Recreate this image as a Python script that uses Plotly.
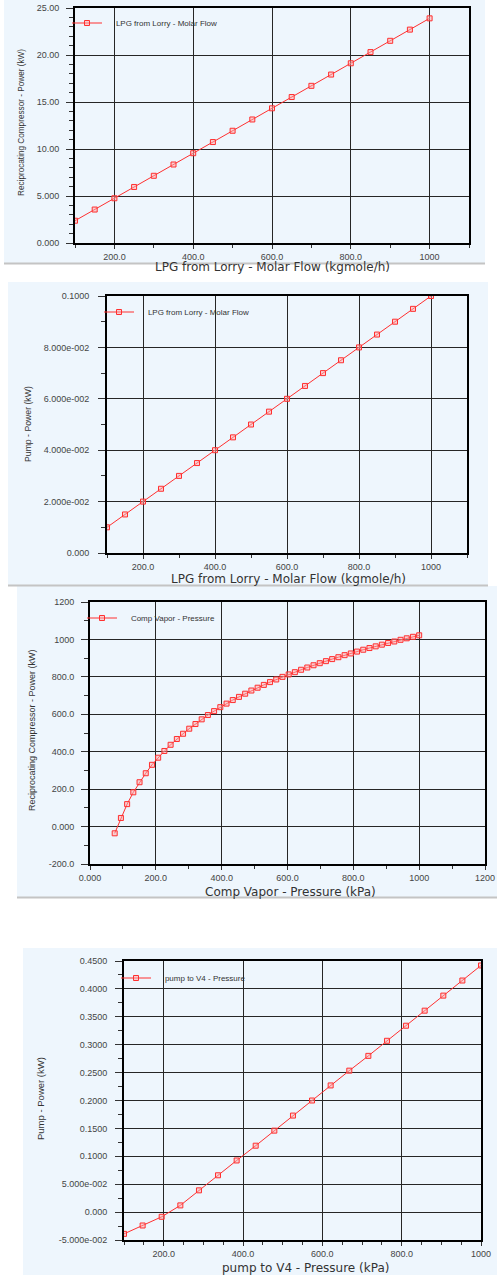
import plotly.graph_objects as go

W, H = 497, 1275

# ---------------- data ----------------
p1_x = [100, 150, 200, 250, 300, 350, 400, 450, 500, 550, 600, 650, 700, 750, 800, 850, 900, 950, 1000]
p1_y = [2.37, 3.56, 4.76, 5.96, 7.15, 8.35, 9.55, 10.74, 11.94, 13.14, 14.33, 15.53, 16.72, 17.92,
        19.12, 20.31, 21.51, 22.70, 23.90]

p2_x = [100, 150, 200, 250, 300, 350, 400, 450, 500, 550, 600, 650, 700, 750, 800, 850, 900, 950, 1000]
p2_y = [0.0100, 0.0150, 0.0200, 0.0250, 0.0300, 0.0350, 0.0400, 0.0450, 0.0500, 0.0550, 0.0600,
        0.0650, 0.0700, 0.0750, 0.0800, 0.0850, 0.0900, 0.0950, 0.1000]

p3_x = [75.0, 93.9, 112.8, 131.6, 150.5, 169.4, 188.3, 207.1, 226.0, 244.9, 263.8, 282.7, 301.5,
        320.4, 339.3, 358.2, 377.0, 395.9, 414.8, 433.7, 452.6, 471.4, 490.3, 509.2, 528.1, 546.9,
        565.8, 584.7, 603.6, 622.4, 641.3, 660.2, 679.1, 698.0, 716.8, 735.7, 754.6, 773.5, 792.3,
        811.2, 830.1, 849.0, 867.9, 886.7, 905.6, 924.5, 943.4, 962.2, 981.1, 1000.0]
p3_y = [-36, 46, 120, 183, 237, 285, 330, 368, 404, 437, 468, 496, 523, 548, 573, 596, 617, 638,
        657, 676, 693, 710, 727, 742, 757, 772, 786, 800, 813, 825, 838, 850, 862, 873, 884, 895,
        905, 916, 925, 935, 945, 954, 963, 972, 981, 989, 998, 1006, 1014, 1022]

p4_x = [100, 147, 195, 242, 289, 337, 384, 432, 479, 526, 574, 621, 668, 716, 763, 811, 858, 905, 953, 1000]
p4_y = [-0.039, -0.024, -0.0084, 0.012, 0.039, 0.066, 0.0925, 0.119, 0.146, 0.173, 0.200, 0.227,
        0.2535, 0.280, 0.307, 0.334, 0.361, 0.388, 0.415, 0.442]

names = ["LPG from Lorry - Molar Flow", "LPG from Lorry - Molar Flow",
         "Comp Vapor - Pressure", "pump to V4 - Pressure"]

x_titles = ["LPG from Lorry - Molar Flow (kgmole/h)", "LPG from Lorry - Molar Flow (kgmole/h)",
            "Comp Vapor - Pressure (kPa)", "pump to V4 - Pressure (kPa)"]
y_titles = ["Reciprocating Compressor - Power (kW)", "Pump - Power (kW)",
            "Reciprocating Compressor - Power (kW)", "Pump - Power (kW)"]

x1_ticks = [200, 400, 600, 800, 1000]
x1_text = ["200.0", "400.0", "600.0", "800.0", "1000"]
y1_ticks = [0, 5, 10, 15, 20, 25]
y1_text = ["0.000", "5.000", "10.00", "15.00", "20.00", "25.00"]

y2_ticks = [0, 0.02, 0.04, 0.06, 0.08, 0.1]
y2_text = ["0.000", "2.000e-002", "4.000e-002", "6.000e-002", "8.000e-002", "0.1000"]

x3_ticks = [0, 200, 400, 600, 800, 1000, 1200]
x3_text = ["0.000", "200.0", "400.0", "600.0", "800.0", "1000", "1200"]
y3_ticks = [-200, 0, 200, 400, 600, 800, 1000, 1200]
y3_text = ["-200.0", "0.000", "200.0", "400.0", "600.0", "800.0", "1000", "1200"]

y4_ticks = [-0.05, 0, 0.05, 0.1, 0.15, 0.2, 0.25, 0.3, 0.35, 0.4, 0.45]
y4_text = ["-5.000e-002", "0.000", "5.000e-002", "0.1000", "0.1500", "0.2000", "0.2500",
           "0.3000", "0.3500", "0.4000", "0.4500"]

# ---------------- layout helpers ----------------
def px(x):
    return x / W

def py(y):
    return 1 - y / H

BG = "#EEF6FD"
RED = "#FF3030"
GRID = "#262626"
TICKC = "#333333"
TFONT = dict(family="Liberation Sans, Arial, sans-serif", size=9, color="#444444")

# plot-area pixel boxes: left, right, top, bottom
boxes = [(75, 469, 8, 243), (107, 467, 296, 553), (90, 485, 602, 864), (124, 481, 961, 1240)]
# panel background boxes
panels = [(4, 485, 0, 263), (8, 488, 282, 585), (17, 497, 586, 897), (23, 497, 948, 1275)]

fig = go.Figure()

PAD = "\u00a0\u00a0\u00a0\u00a0"
series = [(p1_x, p1_y), (p2_x, p2_y), (p3_x, p3_y), (p4_x, p4_y)]
for i, (xs, ys) in enumerate(series):
    sfx = "" if i == 0 else str(i + 1)
    fig.add_trace(go.Scatter(
        x=xs, y=ys, mode="lines+markers", name=PAD + names[i],
        xaxis="x" + sfx, yaxis="y" + sfx,
        legend="legend" + sfx,
        line=dict(color=RED, width=1),
        marker=dict(symbol="square", size=5, color="rgba(255,170,170,0.5)",
                    line=dict(color=RED, width=1)),
    ))

def xaxis(box, rng, tv, tt, minor_dtick, minor_tick0, anchor):
    l, r, t, b = box
    return dict(domain=[px(l), px(r)], range=rng, anchor=anchor,
                tickmode="array", tickvals=tv, ticktext=tt,
                ticks="outside", ticklen=4, tickwidth=1, tickcolor=TICKC,
                tickfont=TFONT, showline=True, linewidth=2, linecolor="black", mirror=True,
                showgrid=True, gridcolor=GRID, gridwidth=1.2, zeroline=False,
                minor=dict(dtick=minor_dtick, tick0=minor_tick0, ticks="outside", ticklen=3,
                           tickcolor=TICKC, showgrid=False))

def yaxis(box, rng, tv, tt, minor_dtick, minor_tick0, anchor, standoff):
    l, r, t, b = box
    return dict(domain=[py(b), py(t)], range=rng, anchor=anchor,
                tickmode="array", tickvals=tv, ticktext=tt,
                ticks="outside", ticklen=7, tickwidth=1, tickcolor=TICKC,
                tickfont=TFONT, ticklabelstandoff=standoff,
                showline=True, linewidth=2, linecolor="black", mirror=True,
                showgrid=True, gridcolor=GRID, gridwidth=1.2, zeroline=False,
                minor=dict(dtick=minor_dtick, tick0=minor_tick0, ticks="outside", ticklen=4,
                           tickcolor=TICKC, showgrid=False))

layout = dict(
    width=W, height=H, margin=dict(l=0, r=0, t=0, b=0, autoexpand=False),
    paper_bgcolor="white", plot_bgcolor=BG, showlegend=True,
    xaxis=xaxis(boxes[0], [100, 1100], x1_ticks, x1_text, 100, 100, "y"),
    yaxis=yaxis(boxes[0], [0, 25], y1_ticks, y1_text, 1, 0, "x", 5),
    xaxis2=xaxis(boxes[1], [100, 1100], x1_ticks, x1_text, 100, 100, "y2"),
    yaxis2=yaxis(boxes[1], [0, 0.1], y2_ticks, y2_text, 0.01, 0, "x2", 7),
    xaxis3=xaxis(boxes[2], [0, 1200], x3_ticks, x3_text, 100, 0, "y3"),
    yaxis3=yaxis(boxes[2], [-200, 1200], y3_ticks, y3_text, 100, 0, "x3", 5),
    xaxis4=xaxis(boxes[3], [100, 1000], x1_ticks, x1_text, 50, 100, "y4"),
    yaxis4=yaxis(boxes[3], [-0.05, 0.45], y4_ticks, y4_text, 0.025, 0, "x4", 6),
)

# legend line start pixel, legend y pixel
legend_pos = [(75, 23), (107, 312), (90, 618), (124, 978)]
for i, (lx, ly) in enumerate(legend_pos):
    key = "legend" if i == 0 else "legend" + str(i + 1)
    layout[key] = dict(x=px(lx - 8), y=py(ly), xanchor="left", yanchor="middle",
                       bgcolor="rgba(0,0,0,0)", borderwidth=0,
                       font=dict(family="Liberation Sans, Arial, sans-serif", size=8, color="#333333"))

shapes = []
for (l, r, t, b) in panels:
    shapes.append(dict(type="rect", xref="paper", yref="paper", x0=px(l), x1=px(r), y0=py(b), y1=py(t),
                       fillcolor=BG, line=dict(width=0), layer="below"))
for (l, r, yy) in [(4, 485, 263.5), (8, 488, 585.5), (17, 497, 897.5)]:
    shapes.append(dict(type="line", xref="paper", yref="paper", x0=px(l), x1=px(r), y0=py(yy), y1=py(yy),
                       line=dict(color="#c4c4c4", width=2), layer="below"))
layout["shapes"] = shapes

annotations = []
xt_pos = [(272, 267), (288, 579), (290, 892), (305, 1268)]
yt_pos = [(22, 123, 8.2), (28, 424, 8.7), (32, 730, 9), (40, 1099, 9.5)]
for i in range(4):
    x0, y0 = xt_pos[i]
    annotations.append(dict(text=x_titles[i], xref="paper", yref="paper", x=px(x0), y=py(y0),
                            xanchor="center", yanchor="middle", showarrow=False,
                            font=dict(family="DejaVu Sans, sans-serif", size=12, color="#333333")))
    x1, y1, fs = yt_pos[i]
    annotations.append(dict(text=y_titles[i], xref="paper", yref="paper", x=px(x1), y=py(y1),
                            xanchor="center", yanchor="middle", showarrow=False, textangle=-90,
                            font=dict(family="Liberation Sans, Arial, sans-serif",
                                      size=fs, color="#333333")))
layout["annotations"] = annotations

fig.update_layout(**layout)
fig.write_html("out.html", config={"displayModeBar": False},
               post_script="document.body.style.margin='0px';document.body.style.overflow='hidden';")
